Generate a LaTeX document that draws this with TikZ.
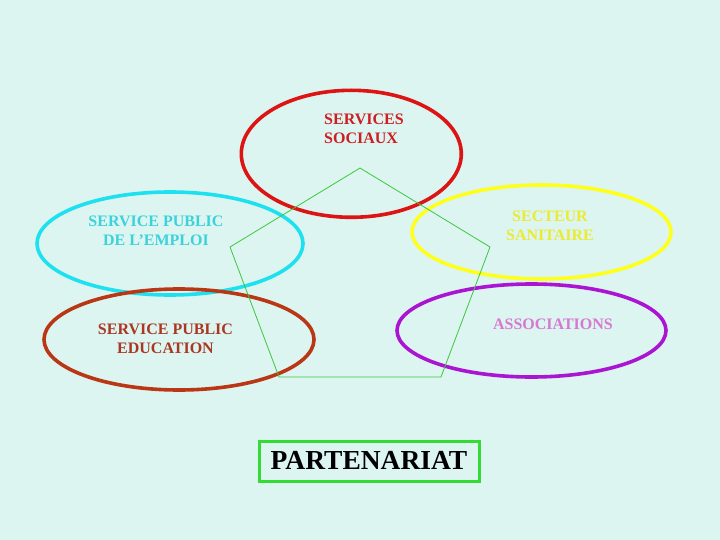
\documentclass[tikz,border=0pt]{standalone}
\usepackage{fontspec}
\setmainfont{Liberation Serif}
\usetikzlibrary{shapes.geometric}
\definecolor{bg}{RGB}{220,245,240}
\definecolor{cred}{RGB}{220,20,20}
\definecolor{ccyan}{RGB}{30,225,240}
\definecolor{cyellow}{RGB}{255,255,30}
\definecolor{cbrown}{RGB}{185,55,20}
\definecolor{cpurple}{RGB}{170,20,210}
\definecolor{tred}{RGB}{205,30,35}
\definecolor{tcyan}{RGB}{60,210,220}
\definecolor{tyellow}{RGB}{235,235,50}
\definecolor{tbrown}{RGB}{170,55,35}
\definecolor{tpink}{RGB}{215,120,210}
\definecolor{cgreen}{RGB}{60,200,60}
\definecolor{cbox}{RGB}{50,220,50}
\tikzset{
  oval/.style={ellipse, draw, line width=3.6pt, inner sep=0pt},
  lbl/.style={inner sep=0pt, align=center, font=\fontsize{16}{19}\selectfont\bfseries},
}
\begin{document}
\begin{tikzpicture}[x=1pt,y=-1pt]
\fill[bg] (0,0) rectangle (720,540);
\useasboundingbox (0,0) rectangle (720,540);
\node[oval, draw=cred, minimum width=220pt, minimum height=127pt] (soc) at (351.3,153.8) {};
\node[oval, draw=ccyan, minimum width=266pt, minimum height=103pt] (emp) at (170,243.5) {};
\node[oval, draw=cyellow, minimum width=259pt, minimum height=94pt] (san) at (541.5,232) {};
\node[oval, draw=cbrown, minimum width=270pt, minimum height=101pt] (edu) at (179,339.5) {};
\node[oval, draw=cpurple, minimum width=269pt, minimum height=93pt] (ass) at (531.5,330.5) {};
\coordinate (p1) at (360,168);
\coordinate (p2) at (490,247);
\coordinate (p3) at (441,377);
\coordinate (p4) at (279,377);
\coordinate (p5) at (230,247);
\draw[cgreen, line width=0.8pt] (p1) -- (p2) -- (p3) -- (p4) -- (p5) -- cycle;
\node[lbl, align=left, text=tred, anchor=west] (tsoc) at (324,129) {SERVICES\\SOCIAUX};
\node[lbl, text=tcyan] (temp) at (156,230.8) {SERVICE PUBLIC\\DE L’EMPLOI};
\node[lbl, text=tyellow] (tsan) at (550,225.4) {SECTEUR\\SANITAIRE};
\node[lbl, text=tbrown] (tedu) at (165.5,338.5) {SERVICE PUBLIC\\EDUCATION};
\node[lbl, text=tpink, anchor=base] (tass) at (553,329.3) {ASSOCIATIONS};
\node[draw=cbox, line width=3pt, minimum width=220pt, minimum height=40pt, inner sep=0pt,
  text height=18.6pt, text depth=2.8pt, font=\fontsize{27.5}{32}\selectfont\bfseries] (part) at (369,461.4) {PARTENARIAT};
\end{tikzpicture}
\end{document}
